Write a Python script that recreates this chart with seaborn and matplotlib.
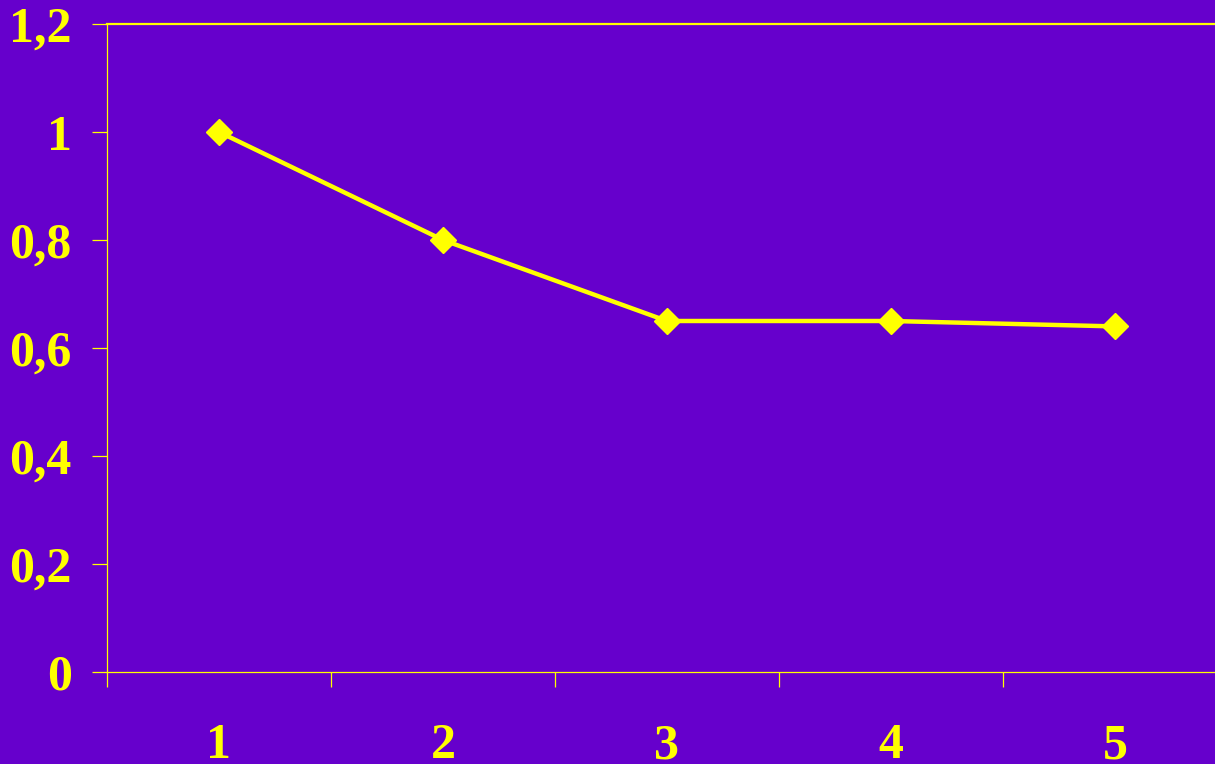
import matplotlib
matplotlib.use("Agg")
import matplotlib.pyplot as plt
import seaborn as sns
import pandas as pd
from matplotlib.ticker import FixedLocator, NullFormatter

# Series
categories = ["1", "2", "3", "4", "5"]
values = [1.0, 0.8, 0.65, 0.65, 0.64]
y_ticks = [0, 0.2, 0.4, 0.6, 0.8, 1.0, 1.2]
y_tick_labels = ["0", "0,2", "0,4", "0,6", "0,8", "1", "1,2"]

BG = "#6600CC"
FG = "#FFFF00"

sns.set_theme(style="white")
plt.rcParams["font.family"] = ["Liberation Serif", "DejaVu Serif"]

df = pd.DataFrame({"pos": range(1, len(categories) + 1), "value": values})

W, H = 1215, 764
fig = plt.figure(figsize=(W / 100, H / 100), dpi=100, facecolor=BG)
left, right, top, bottom = 107, 1227, 24, 672
ax = fig.add_axes([left / W, 1 - bottom / H, (right - left) / W, (bottom - top) / H])
ax.set_facecolor(BG)

sns.lineplot(data=df, x="pos", y="value", ax=ax, color=FG, linewidth=3.2,
             marker="D", markersize=13.5, markeredgecolor=FG, markerfacecolor=FG,
             markeredgewidth=1)

ax.set_xlim(0.5, len(categories) + 0.5)
ax.set_ylim(0, 1.2)

# Category boundaries carry the tick marks; labels sit at the centres
ax.xaxis.set_major_locator(FixedLocator([i + 0.5 for i in range(0, len(categories) + 1)]))
ax.xaxis.set_major_formatter(NullFormatter())
ax.set_xticks(list(df["pos"]), minor=True)
ax.set_xticklabels(categories, minor=True)
ax.tick_params(axis="x", which="major", direction="out", length=10.5, width=0.9,
               color=FG, bottom=True)
ax.tick_params(axis="x", which="minor", length=0, pad=37, labelsize=36,
               labelcolor=FG, bottom=True)

ax.set_yticks(y_ticks)
ax.set_yticklabels(y_tick_labels)
ax.tick_params(axis="y", which="major", direction="out", length=10.5, width=0.9,
               color=FG, left=True, labelsize=36, labelcolor=FG, pad=15)

for lbl in ax.get_xticklabels(minor=True) + ax.get_yticklabels():
    lbl.set_fontweight("bold")

for side in ["left", "bottom"]:
    ax.spines[side].set_color(FG)
    ax.spines[side].set_linewidth(0.9)
ax.spines["top"].set_color(FG)
ax.spines["top"].set_linewidth(1.6)
ax.spines["right"].set_visible(False)

ax.set_xlabel("")
ax.set_ylabel("")
ax.grid(False)

fig.savefig("out.png", dpi=100, facecolor=BG)
